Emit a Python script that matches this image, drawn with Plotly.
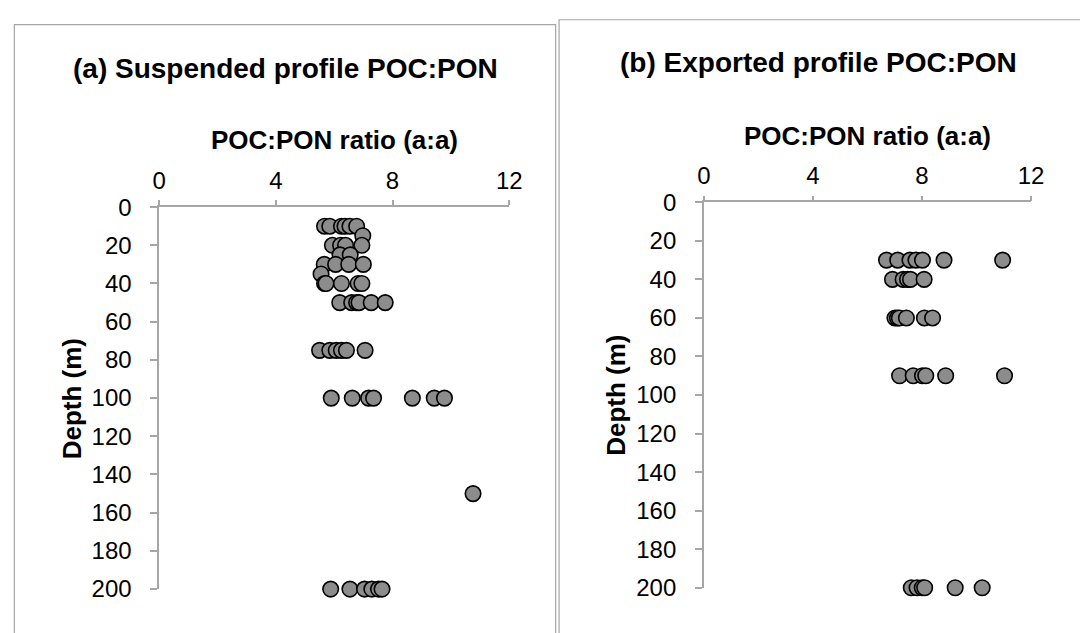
import plotly.graph_objects as go

# Panel (a): suspended profile
a_depth = [10, 10, 10, 10, 10, 10,
           15,
           20, 20, 20, 20,
           25, 25,
           30, 30, 30, 30,
           35,
           40, 40, 40, 40, 40,
           50, 50, 50, 50, 50, 50,
           75, 75, 75, 75, 75, 75,
           100, 100, 100, 100, 100, 100, 100,
           150,
           200, 200, 200, 200, 200, 200]
a_ratio = [5.67, 5.85, 6.25, 6.37, 6.54, 6.77,
           6.98,
           5.94, 6.22, 6.39, 6.95,
           6.20, 6.55,
           5.66, 6.05, 6.50, 7.00,
           5.55,
           5.67, 5.72, 6.25, 6.82, 6.95,
           6.19, 6.60, 6.77, 6.85, 7.27, 7.75,
           5.50, 5.85, 6.07, 6.25, 6.42, 7.06,
           5.90, 6.62, 7.18, 7.35, 8.68, 9.43, 9.78,
           10.76,
           5.88, 6.54, 7.04, 7.29, 7.52, 7.64]

# Panel (b): exported profile
b_depth = [30, 30, 30, 30, 30, 30, 30,
           40, 40, 40, 40, 40,
           60, 60, 60, 60, 60, 60,
           90, 90, 90, 90, 90, 90,
           200, 200, 200, 200, 200, 200]
b_ratio = [6.70, 7.11, 7.56, 7.78, 8.02, 8.81, 10.96,
           6.92, 7.31, 7.47, 7.58, 8.08,
           7.01, 7.10, 7.17, 7.43, 8.09, 8.39,
           7.18, 7.68, 8.02, 8.14, 8.87, 11.03,
           7.61, 7.82, 8.01, 8.10, 9.22, 10.21]

x_ticks = [0, 4, 8, 12]
y_ticks = [0, 20, 40, 60, 80, 100, 120, 140, 160, 180, 200]

titles = ["(a) Suspended profile POC:PON", "(b) Exported profile POC:PON"]
x_title = "POC:PON ratio (a:a)"
y_title = "Depth (m)"

W, H = 1080, 633
FONT = "Liberation Sans, Arial, Helvetica, sans-serif"
AX = "#a6a6a6"

def px(x):
    return x / W

def py(y):
    return 1 - y / H

marker = dict(size=15.5, color="#8c8c8c", line=dict(color="black", width=1.6))

fig = go.Figure()
fig.add_trace(go.Scatter(x=a_ratio, y=a_depth, mode="markers", marker=marker,
                         xaxis="x", yaxis="y", cliponaxis=False, showlegend=False))
fig.add_trace(go.Scatter(x=b_ratio, y=b_depth, mode="markers", marker=marker,
                         xaxis="x2", yaxis="y2", cliponaxis=False, showlegend=False))

tickfont = dict(family=FONT, size=24, color="black")

def xax(domain, anchor):
    return dict(domain=domain, anchor=anchor, side="top", range=[0, 12],
                tickvals=x_ticks, ticktext=[str(t) for t in x_ticks],
                showgrid=False, zeroline=False, showline=True, linecolor=AX, linewidth=1.5,
                ticks="outside", ticklen=5, tickwidth=1.5, tickcolor=AX,
                tickfont=tickfont, ticklabelstandoff=2)

def yax(domain, anchor):
    return dict(domain=domain, anchor=anchor, range=[200, 0],
                tickvals=y_ticks, ticktext=[str(t) for t in y_ticks],
                showgrid=False, zeroline=False, showline=True, linecolor=AX, linewidth=1.5,
                ticks="outside", ticklen=7, tickwidth=1.5, tickcolor=AX,
                tickfont=tickfont, ticklabelstandoff=14)

fig.update_layout(
    width=W, height=H, autosize=False,
    margin=dict(l=0, r=0, t=0, b=0),
    paper_bgcolor="white", plot_bgcolor="white",
    font=dict(family=FONT, color="black"),
    xaxis=xax([px(155), px(511.7)], "y"),
    yaxis=yax([py(600.7), py(201.7)], "x"),
    xaxis2=xax([px(710), px(1043.3)], "y2"),
    yaxis2=yax([py(599.3), py(196.7)], "x2"),
)

shapes = [
    dict(type="rect", xref="paper", yref="paper", x0=px(7.5), x1=px(559), y0=-0.05, y1=py(11),
         line=dict(color=AX, width=1.2), fillcolor="rgba(0,0,0,0)", layer="below"),
    dict(type="rect", xref="paper", yref="paper", x0=px(562.5), x1=1.05, y0=-0.05, y1=py(6),
         line=dict(color=AX, width=1.2), fillcolor="rgba(0,0,0,0)", layer="below"),
]
fig.update_layout(shapes=shapes)

ann = []
def add(text, x, y, size, angle=0):
    ann.append(dict(text="<b>" + text + "</b>", x=px(x), y=py(y), xref="paper", yref="paper",
                    xanchor="center", yanchor="middle", showarrow=False, textangle=angle,
                    font=dict(family=FONT, size=size, color="black")))

add(titles[0], 284, 57, 28)
add(titles[1], 826.7, 51, 28)
add(x_title, 334, 132, 26)
add(x_title, 877, 127, 26)
add(y_title, 66, 401.7, 26, -90)
add(y_title, 621, 398.3, 26, -90)
fig.update_layout(annotations=ann)

fig.write_html("out.html")
